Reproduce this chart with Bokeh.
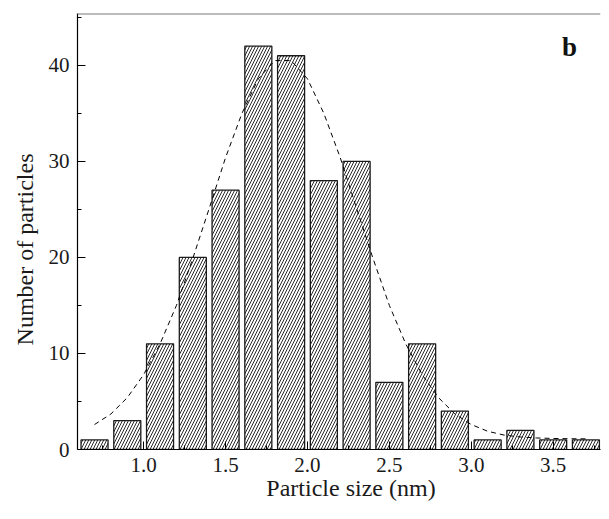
from bokeh.plotting import figure
from bokeh.models import Range1d, Span, Label, FixedTicker, ColumnDataSource
from bokeh.embed import file_html
from bokeh.resources import INLINE

# Histogram data (bin centres in nm, counts)
sizes = [0.7, 0.9, 1.1, 1.3, 1.5, 1.7, 1.9, 2.1, 2.3, 2.5, 2.7, 2.9, 3.1, 3.3, 3.5, 3.7]
counts = [1, 3, 11, 20, 27, 42, 41, 28, 30, 7, 11, 4, 1, 2, 1, 1]

# Dashed fit curve
fit_x = [0.7, 0.8, 0.9, 1.0, 1.1, 1.2, 1.3, 1.4, 1.5, 1.6, 1.7, 1.8, 1.9, 2.0, 2.1, 2.2,
         2.3, 2.4, 2.5, 2.6, 2.7, 2.8, 2.9, 3.0, 3.1, 3.2, 3.3, 3.4, 3.5, 3.6, 3.7]
fit_y = [2.6, 3.7, 5.4, 7.8, 11.0, 15.0, 19.9, 25.1, 30.4, 35.0, 38.6, 40.5, 40.5, 38.6, 35.0, 30.4,
         25.1, 19.9, 15.0, 11.0, 7.8, 5.4, 3.7, 2.6, 1.9, 1.5, 1.3, 1.2, 1.15, 1.12, 1.11]

x_ticks = [1.0, 1.5, 2.0, 2.5, 3.0, 3.5]
x_tick_labels = {1.0: "1.0", 1.5: "1.5", 2.0: "2.0", 2.5: "2.5", 3.0: "3.0", 3.5: "3.5"}
y_ticks = [0, 10, 20, 30, 40]

FONT = "'Liberation Serif', 'Times New Roman', serif"
NB = "\u00a0"

p = figure(width=601, height=503, output_backend="svg", toolbar_location=None,
           x_range=Range1d(0.596, 3.789), y_range=Range1d(0, 45.4),
           min_border_left=77, min_border_right=1, min_border_top=13, min_border_bottom=54)
p.outline_line_color = None
p.grid.visible = False
p.background_fill_color = "white"
p.border_fill_color = "white"

src = ColumnDataSource(dict(x=sizes, top=counts))
p.vbar(x="x", top="top", bottom=0, width=0.165, source=src,
       fill_color="white", line_color="#1a1a1a", line_width=1.3,
       hatch_pattern="/", hatch_color="#111111", hatch_weight=0.9, hatch_scale=6)

p.line(fit_x, fit_y, line_color="black", line_width=1, line_dash="5 4")

# top border line
p.add_layout(Span(location=45.4, dimension="width", line_color="#7a7a7a", line_width=2))

for ax in (p.xaxis[0], p.yaxis[0]):
    ax.axis_line_color = "black"
    ax.axis_line_width = 1.2
    ax.major_tick_line_color = "black"
    ax.minor_tick_line_color = "black"
    ax.major_tick_in = 8
    ax.major_tick_out = 0
    ax.minor_tick_in = 4
    ax.minor_tick_out = 0
    ax.major_label_text_font = FONT
    ax.major_label_text_font_size = "21px"
    ax.major_label_text_color = "#1a1a1a"
    ax.axis_label_text_font = FONT
    ax.axis_label_text_font_size = "24px"
    ax.axis_label_text_font_style = "normal"
    ax.axis_label_text_color = "#1a1a1a"

p.xaxis.ticker = FixedTicker(ticks=x_ticks, minor_ticks=[0.75, 1.25, 1.75, 2.25, 2.75, 3.25, 3.75])
p.xaxis.major_label_overrides = x_tick_labels
p.xaxis.axis_label = NB * 4 + "Particle size (nm)"
p.xaxis.major_label_standoff = 8
p.xaxis.axis_label_standoff = 0

p.yaxis.ticker = FixedTicker(ticks=y_ticks, minor_ticks=[5, 15, 25, 35, 45])
p.yaxis.axis_label = "Number of particles" + NB * 6
p.yaxis.major_label_standoff = 8
p.yaxis.axis_label_standoff = 8

p.add_layout(Label(x=3.6, y=41.9, text="b", text_font=FONT, text_font_size="27px",
                   text_font_style="bold", text_align="center", text_baseline="middle",
                   text_color="#111111"))

open("out.html", "w").write(file_html(p, INLINE))
